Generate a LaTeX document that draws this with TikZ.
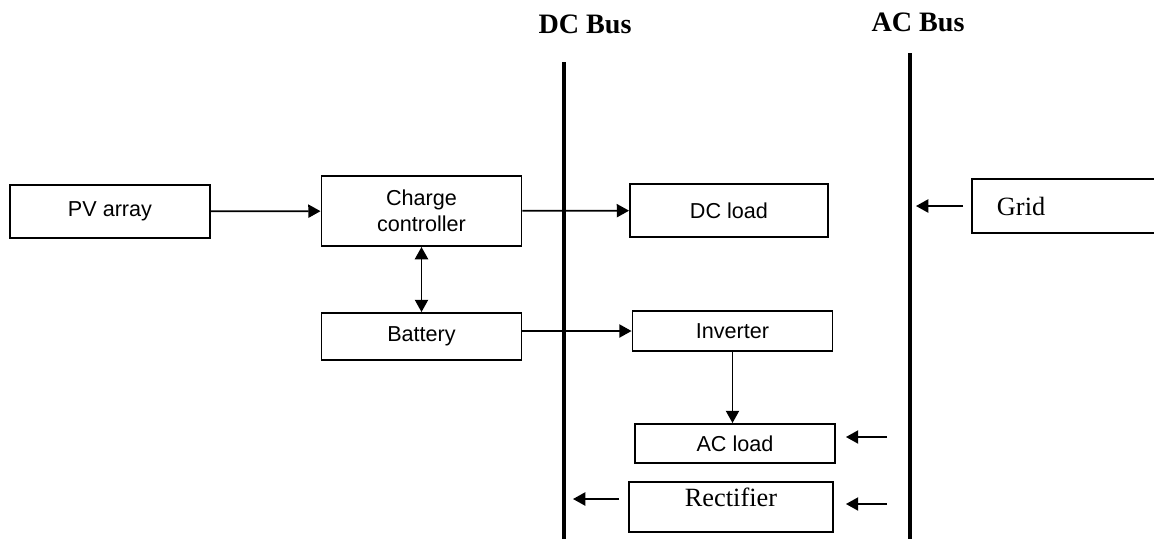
\documentclass[tikz,border=0pt]{standalone}
\usepackage{fontspec}
\setmainfont{Liberation Sans}
\newfontfamily\timesfont{Liberation Serif}
\usetikzlibrary{positioning,arrows.meta}

\begin{document}
\begin{tikzpicture}[
    x=0.02cm, y=-0.02cm,
    box/.style={
        draw,
        rectangle,
        line width=1.1pt,
        minimum width=4cm,
        minimum height=1.06cm,
        align=center,
        font=\fontsize{12.3}{14.5}\selectfont
    },
    arrow/.style={-{Triangle[length=7pt,width=7.5pt]}, line width=1pt},
    twoway/.style={{Triangle[length=7pt,width=7.5pt]}-{Triangle[length=7pt,width=7.5pt]}, line width=1pt},
    bus/.style={line width=2.6pt},
    buslabel/.style={font=\timesfont\bfseries\fontsize{16}{18}\selectfont}
]

\useasboundingbox (0,0) rectangle (1154,539);

% bus bars
\coordinate (dctop) at (564,62);
\coordinate (dcbot) at (564,539);
\coordinate (actop) at (910,53);
\coordinate (acbot) at (910,539);
\draw[bus] (dctop) -- (dcbot);
\draw[bus] (actop) -- (acbot);
\node[buslabel] (dclabel) at (585,24) {DC Bus};
\node[buslabel] (aclabel) at (918,22) {AC Bus};

% blocks
\node[box] (pv) at (110,211.5) {PV array};
\node[box, minimum height=1.4cm] (cc) at (421.5,211) {Charge\\controller};
\node[box, minimum height=0.94cm] (battery) at (421.5,336.5) {Battery};
\node[box, minimum width=3.96cm] (dcload) at (729,210.5) {DC load};
\node[box, minimum height=0.8cm] (inverter) at (732.5,331) {Inverter};
\node[box, minimum height=0.78cm] (acload) at (735,443.5) {AC load};
\node[box, minimum width=4.08cm, minimum height=0.96cm, text depth=11pt,
      font=\timesfont\fontsize{15}{17}\selectfont] (rectifier) at (731,507) {Rectifier};
\node[box, anchor=west, minimum height=1.08cm, inner xsep=0.48cm, text width=3cm,
      align=left, font=\timesfont\fontsize{15}{17}\selectfont] (grid) at (971,206) {Grid};

% free arrow ends
\coordinate (acin) at (887,437);
\coordinate (rectin) at (887,504);
\coordinate (rectout) at (619,499);

% connections
\draw[arrow] (pv) -- (cc);
\draw[arrow] (cc) -- (dcload);
\draw[twoway] (cc) -- (battery);
\draw[arrow] (battery.east |- inverter) -- (inverter);
\draw[arrow] (inverter.south) -- (inverter.south |- acload.north);
\draw[arrow, shorten <=0.16cm, shorten >=0.12cm] (grid.west) -- (grid.west -| actop);
\draw[arrow, shorten >=0.2cm] (acin) -- (acin -| acload.east);
\draw[arrow, shorten >=0.24cm] (rectin) -- (rectin -| rectifier.east);
\draw[arrow, shorten >=0.18cm] (rectout) -- (rectout -| dctop);

\end{tikzpicture}
\end{document}
